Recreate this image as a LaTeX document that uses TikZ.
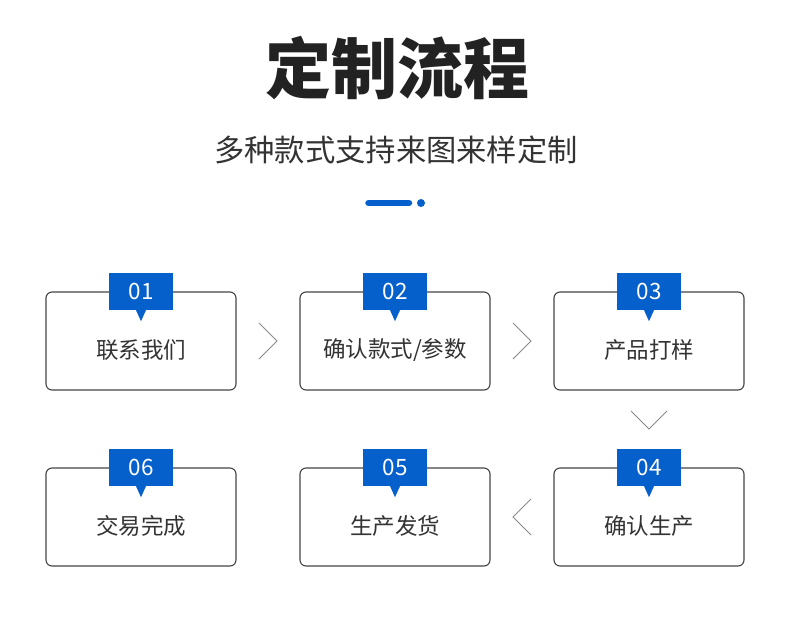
\documentclass[tikz,border=0pt]{standalone}
\usepackage{fontspec}
\usetikzlibrary{calc}
\setmainfont{Noto Sans CJK SC}
\definecolor{badgeblue}{HTML}{0560CC}
\definecolor{boxline}{HTML}{444444}
\definecolor{titlecol}{HTML}{222222}
\definecolor{textcol}{HTML}{333333}
\definecolor{chevcol}{HTML}{8A8A8A}
\begin{document}
\begin{tikzpicture}[x=1pt,y=-1pt,
  stepbox/.style={draw=boxline,line width=1.1pt,rounded corners=6pt,minimum width=190pt,minimum height=98pt,inner sep=0pt},
  badge/.style={fill=badgeblue,minimum width=64pt,minimum height=37pt,inner sep=0pt,text=white,font=\fontsize{22.5}{23}\selectfont},
  steplabel/.style={text=textcol,inner sep=0pt,font=\fontsize{22.5}{23}\selectfont},
  chev/.style={draw=chevcol,line width=0.9pt}]
\useasboundingbox (0,0) rectangle (790,622);
\fill[white] (0,0) rectangle (790,622);
\node[text=titlecol,inner sep=0pt,font=\fontsize{66}{66}\selectfont\bfseries] (title) at (397,68) {定制流程};
\node[text=textcol,inner sep=0pt,font=\fontsize{30.3}{31}\selectfont] (sub) at (396,150) {多种款式支持来图来样定制};
\draw[badgeblue,line width=6.5pt,line cap=round] (368.5,203) -- (409,203);
\fill[badgeblue] (421,203) circle (4pt);
% boxes
\foreach \i/\x/\y/\t in {1/141/341/{联系我们},2/395/341/{确认款式/参数},3/649/341/{产品打样},4/649/517/{确认生产},5/395/517/{生产发货},6/141/517/{交易完成}}{
  \node[stepbox] (s\i) at (\x,\y) {};
  \node[steplabel] (t\i) at (\x,\y+9) {\t};
  \node[badge] (b\i) at (s\i.north) {0\i};
  \fill[badgeblue] ([xshift=-5pt]b\i.south) -- ([xshift=5pt]b\i.south) -- ([yshift=-11pt]b\i.south) -- cycle;
}
% chevrons
\coordinate (c12) at ($(s1.east)!0.5!(s2.west)$);
\coordinate (c23) at ($(s2.east)!0.5!(s3.west)$);
\coordinate (c34) at ($(s3.south)!0.5!(s4.north)$);
\coordinate (c45) at ($(s5.east)!0.5!(s4.west)$);
\draw[chev] ([shift={(-9,-18)}]c12) -- ([shift={(9,0)}]c12) -- ([shift={(-9,18)}]c12);
\draw[chev] ([shift={(-9,-18)}]c23) -- ([shift={(9,0)}]c23) -- ([shift={(-9,18)}]c23);
\draw[chev] ([shift={(-18,-18)}]c34) -- (c34) -- ([shift={(18,-18)}]c34);
\draw[chev] ([shift={(9,-18)}]c45) -- ([shift={(-9,0)}]c45) -- ([shift={(9,18)}]c45);
\end{tikzpicture}
\end{document}
